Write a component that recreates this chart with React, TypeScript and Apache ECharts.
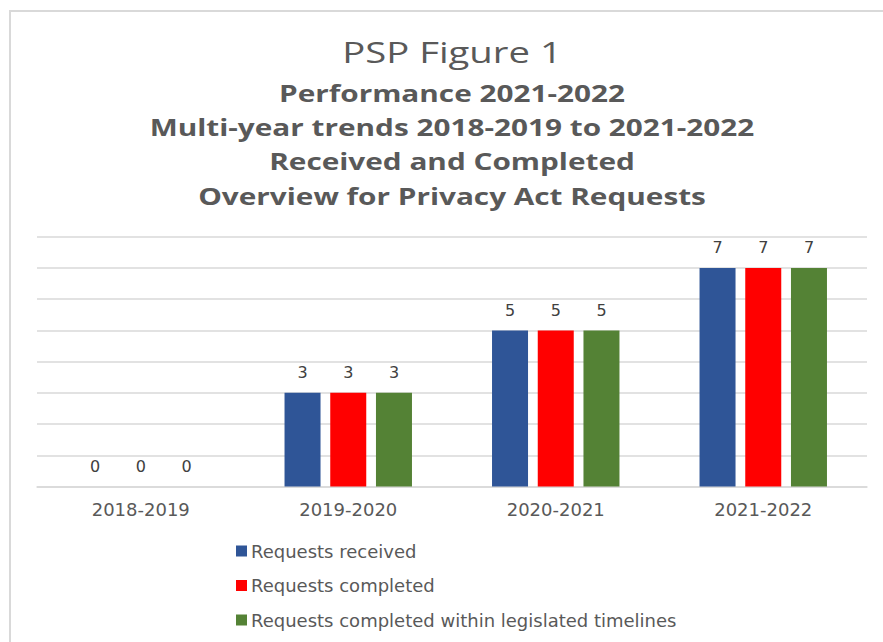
import React, { useEffect, useRef } from "react";
import * as echarts from "echarts";

const categories = ["2018-2019", "2019-2020", "2020-2021", "2021-2022"];
const seriesNames = [
  "Requests received",
  "Requests completed",
  "Requests completed within legislated timelines",
];
const received = [0, 3, 5, 7];
const completed = [0, 3, 5, 7];
const withinTimelines = [0, 3, 5, 7];
const colors = ["#2f5597", "#ff0000", "#548235"];
const titleLines = [
  "PSP Figure 1",
  "Performance 2021-2022",
  "Multi-year trends 2018-2019 to 2021-2022",
  "Received and Completed",
  "Overview for Privacy Act Requests",
];

const FONT = "'Open Sans', 'Noto Sans', sans-serif";
const WIDE = "'DejaVu Sans', 'Open Sans', sans-serif";

export default function App() {
  const ref = useRef<HTMLDivElement>(null);
  useEffect(() => {
    if (!ref.current) return;
    const chart = echarts.init(ref.current, null, { renderer: "svg" });
    const values = [received, completed, withinTimelines];
    const titleTops = [52, 93, 127, 161, 196];
    chart.setOption({
      animation: false,
      backgroundColor: "#ffffff",
      graphic: [
        {
          type: "line",
          shape: { x1: 9, y1: 11, x2: 883, y2: 11 },
          style: { stroke: "#d9d9d9", lineWidth: 2 },
        },
        {
          type: "line",
          shape: { x1: 10, y1: 10, x2: 10, y2: 642 },
          style: { stroke: "#d9d9d9", lineWidth: 2 },
        },
        ...titleLines.map((t, i) => ({
          type: "text",
          x: 452,
          y: titleTops[i],
          scaleX: i === 0 ? 1.32 : 1.24,
          style: {
            text: t,
            x: 0,
            y: 0,
            textAlign: "center",
            textVerticalAlign: "middle",
            fill: "#595959",
            font: i === 0 ? `normal 29px ${FONT}` : `bold 24px ${FONT}`,
          },
        })),
      ],
      legend: {
        orient: "vertical",
        left: 231,
        top: 537,
        itemWidth: 11,
        itemHeight: 11,
        itemGap: 16.5,
        icon: "rect",
        data: seriesNames,
        textStyle: {
          fontFamily: WIDE,
          fontSize: 18,
          color: "#595959",
          padding: [0, 0, 0, -1],
        },
      },
      grid: { left: 37, right: 16, top: 236.7, bottom: 155.5 },
      xAxis: {
        type: "category",
        data: categories,
        axisLine: { lineStyle: { color: "#d9d9d9", width: 1.5 } },
        axisTick: { show: false },
        axisLabel: {
          fontFamily: WIDE,
          fontSize: 18,
          color: "#595959",
          margin: 14,
        },
      },
      yAxis: {
        type: "value",
        min: 0,
        max: 8,
        interval: 1,
        axisLabel: { show: false },
        axisLine: { show: false },
        axisTick: { show: false },
        splitLine: { lineStyle: { color: "#d9d9d9", width: 1.5 } },
      },
      series: seriesNames.map((name, i) => ({
        name,
        type: "bar",
        data: values[i],
        barWidth: 36,
        barGap: "27%",
        itemStyle: { color: colors[i] },
        label: {
          show: true,
          position: "top",
          distance: 12,
          fontFamily: WIDE,
          fontSize: 16,
          color: "#404040",
        },
      })),
    });
    return () => chart.dispose();
  }, []);
  return (
    <div
      ref={ref}
      style={{ position: "fixed", left: 0, top: 0, width: 883, height: 642 }}
    />
  );
}
